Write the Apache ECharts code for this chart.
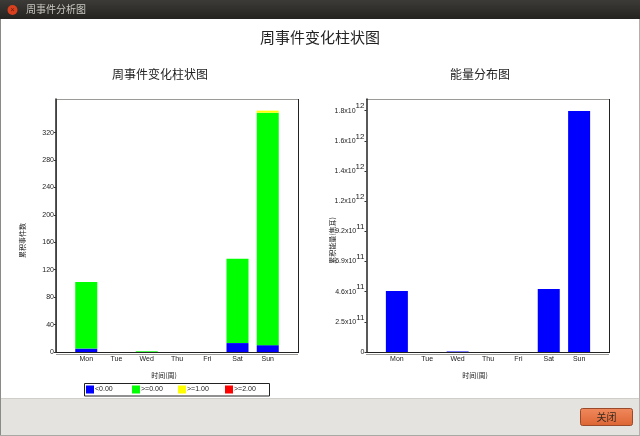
<!DOCTYPE html>
<html><head><meta charset="utf-8">
<style>html,body{margin:0;padding:0;background:#fff}#c{width:640px;height:436px}</style>
<script src="https://cdn.jsdelivr.net/npm/echarts@6/dist/echarts.min.js"></script>
</head><body><div id="c"></div>
<script>
const categories = ['', 'Mon', 'Tue', 'Wed', 'Thu', 'Fri', 'Sat', 'Sun', ''];
const below0 = [0, 5, 0, 0, 0, 0, 13, 10, 0];
const from0 = [0, 97, 0, 1, 0, 0, 123, 339, 0];
const from1 = [0, 0, 0, 0, 0, 0, 0, 3, 0];
const from2 = [0, 0, 0, 0, 0, 0, 0, 0, 0];
const energy = [0, 4.65e11, 0, 4e9, 0, 0, 4.8e11, 1.837e12, 0];
const countTicks = [0, 40, 80, 120, 160, 200, 240, 280, 320];
const energyTicks = [0, 2.3e11, 4.6e11, 6.9e11, 9.2e11, 1.15e12, 1.38e12, 1.61e12, 1.84e12];
const energyLabels = ['0', '2.5x10|11', '4.6x10|11', '6.9x10|11', '9.2x10|11', '1.2x10|12', '1.4x10|12', '1.6x10|12', '1.8x10|12'];
const legendNames = ['<0.00', '>=0.00', '>=1.00', '>=2.00'];

const FONT = '"Liberation Sans","Noto Sans CJK SC",sans-serif';
const CJK = '"Noto Sans CJK SC",sans-serif';
const DARK = '#222';
const GRAY = '#9a9a96';

function xAxis(gridIndex) {
  return {
    type: 'category', gridIndex, data: categories, boundaryGap: false,
    name: '时间(周)', nameLocation: 'middle', nameGap: 20, nameMoveOverlap: false,
    nameTextStyle: { fontSize: 7, fontFamily: CJK, color: '#222', padding: [0, 26, 0, 0] },
    axisLine: { lineStyle: { color: DARK, width: 1 } },
    axisTick: { show: false },
    axisLabel: { fontSize: 7, fontFamily: FONT, color: '#222', margin: 4, interval: 0 },
    splitLine: { show: false }
  };
}
function yAxis(gridIndex, name, gap, max, ticks, labelCfg) {
  return {
    type: 'value', gridIndex, min: 0, max, name, nameLocation: 'middle', nameGap: gap, nameMoveOverlap: false,
    nameTextStyle: { fontSize: 7, fontFamily: CJK, color: '#222', padding: [0, 30, 0, 0] },
    axisLine: { show: true, lineStyle: { color: DARK, width: 1.5 } },
    axisTick: { show: true, length: 2, lineStyle: { color: '#333' }, customValues: ticks },
    axisLabel: Object.assign({ fontSize: 7, fontFamily: FONT, color: '#222', margin: 2, customValues: ticks, hideOverlap: false }, labelCfg),
    splitLine: { show: false }
  };
}
function bar(name, data, color, xi, stack) {
  return { name, type: 'bar', data, xAxisIndex: xi, yAxisIndex: xi, stack, barWidth: 22,
           itemStyle: { color }, silent: true, animation: false };
}
function line(x1, y1, x2, y2, stroke, w) {
  return { type: 'line', silent: true, shape: { x1, y1, x2, y2 }, style: { stroke, lineWidth: w || 1 } };
}
const legendLefts = [86, 132, 178, 225];
function legendFor(name, i) {
  return {
    left: legendLefts[i], top: 385.5, padding: 0, itemWidth: 8, itemHeight: 8, selectedMode: false,
    icon: 'rect', data: [name],
    textStyle: { fontSize: 7, fontFamily: FONT, color: '#222', padding: [0, 0, 0, -4] }
  };
}
function titleFor(text, left, top, fontSize) {
  return { text, left, top, padding: 0, textAlign: 'center',
           textStyle: { fontSize, fontWeight: 'normal', fontFamily: CJK, color: '#222' } };
}

const chart = echarts.init(document.getElementById('c'), null, { renderer: 'canvas' });
chart.setOption({
  animation: false,
  backgroundColor: '#ffffff',
  title: [
    titleFor('周事件变化柱状图', 320, 29.5, 15),
    titleFor('周事件变化柱状图', 160, 68, 12),
    titleFor('能量分布图', 480, 68, 12)
  ],
  grid: [
    { left: 56, top: 99, width: 242, height: 253 },
    { left: 366.5, top: 99, width: 243, height: 253 }
  ],
  xAxis: [xAxis(0), xAxis(1)],
  yAxis: [
    yAxis(0, '累积事件数', 30, 369, countTicks, {}),
    yAxis(1, '累积能量(焦耳)', 31, 1.929e12, energyTicks, {
      formatter: function (v) {
        const i = energyTicks.findIndex(t => Math.abs(t - v) < 1e9);
        if (i <= 0) return '0';
        const p = energyLabels[i].split('|');
        return '{a|' + p[0] + '}{b|' + p[1] + '}';
      },
      rich: {
        a: { fontSize: 7, fontFamily: FONT, color: '#222' },
        b: { fontSize: 8, fontFamily: FONT, color: '#222', padding: [0, 0, 9, 0] }
      }
    })
  ],
  legend: legendNames.map(legendFor),
  series: [
    bar(legendNames[0], below0, '#0000ff', 0, 'events'),
    bar(legendNames[1], from0, '#00ff00', 0, 'events'),
    bar(legendNames[2], from1, '#ffff00', 0, 'events'),
    bar(legendNames[3], from2, '#ff0000', 0, 'events'),
    bar('energy', energy, '#0000ff', 1, 'energy')
  ],
  graphic: [
    { type: 'rect', silent: true, shape: { x: 0, y: 0, width: 640, height: 19 },
      style: { fill: new echarts.graphic.LinearGradient(0, 0, 0, 1, [{ offset: 0, color: '#3c3b37' }, { offset: 1, color: '#24231f' }]) } },
    { type: 'circle', silent: true, shape: { cx: 12.5, cy: 10, r: 5 }, style: { fill: '#d9401e' } },
    { type: 'text', silent: true, style: { x: 12.5, y: 10, text: '×', fontSize: 7, fontFamily: FONT, fill: '#5a1a08', align: 'center', verticalAlign: 'middle' } },
    { type: 'text', silent: true, style: { x: 26, y: 4, text: '周事件分析图', fontSize: 10, fontFamily: CJK, fill: '#c8c8c0' } },
    { type: 'rect', silent: true, shape: { x: 0, y: 398, width: 640, height: 38 }, style: { fill: '#e4e3df' } },
    line(0, 398.5, 640, 398.5, '#cfcec9'),
    line(0.5, 19, 0.5, 436, '#8a8a86'),
    line(639.5, 19, 639.5, 436, '#b0b0ac'),
    line(0, 435.5, 640, 435.5, '#a8a8a4'),
    { type: 'rect', silent: true, shape: { x: 580.5, y: 408.5, width: 52, height: 17, r: 2 },
      style: { stroke: '#9a4a2a', lineWidth: 1,
        fill: new echarts.graphic.LinearGradient(0, 0, 0, 1, [{ offset: 0, color: '#f08a5d' }, { offset: 1, color: '#dd6433' }]) } },
    { type: 'text', silent: true, style: { x: 606.5, y: 417, text: '关闭', fontSize: 10, fontFamily: CJK, fill: '#3a2a20', align: 'center', verticalAlign: 'middle' } },
    line(56.5, 99.5, 298, 99.5, GRAY), line(56.5, 99, 56.5, 352, GRAY),
    line(56, 354.5, 298, 354.5, GRAY), line(298.5, 99, 298.5, 353, DARK),
    line(366, 99.5, 609, 99.5, GRAY),
    line(366, 354.5, 609, 354.5, GRAY), line(609.5, 99, 609.5, 353, DARK),
    { type: 'rect', silent: true, z: -1, shape: { x: 84.5, y: 383.5, width: 185, height: 12.5 }, style: { fill: '#fff', stroke: '#222', lineWidth: 1 } }
  ]
});
</script></body></html>
